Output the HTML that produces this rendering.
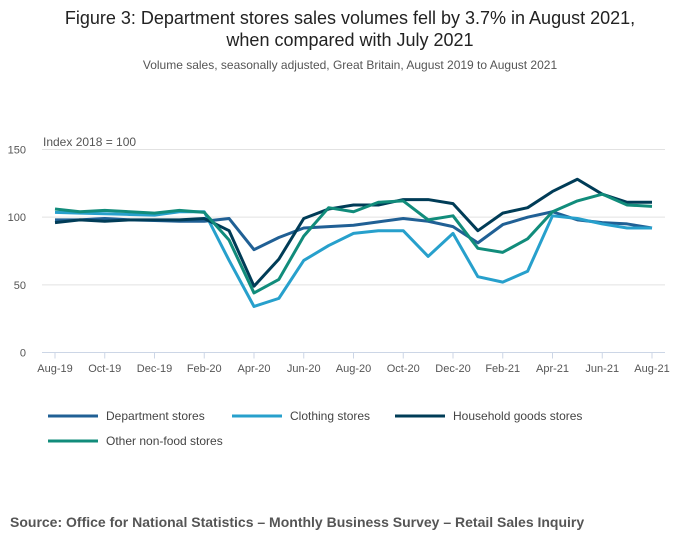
<!DOCTYPE html>
<html><head><meta charset="utf-8"><style>
body{margin:0;width:700px;height:549px;background:#fff;font-family:"Liberation Sans",sans-serif;overflow:hidden}
svg text{font-family:"Liberation Sans",sans-serif}
</style></head><body>
<svg id="chart" width="700" height="549">
<text x="350" y="24" text-anchor="middle" font-size="18" fill="#222">Figure 3: Department stores sales volumes fell by 3.7% in August 2021,</text>
<text x="350" y="46" text-anchor="middle" font-size="18" fill="#222">when compared with July 2021</text>
<text x="350" y="69" text-anchor="middle" font-size="12" fill="#555">Volume sales, seasonally adjusted, Great Britain, August 2019 to August 2021</text>
<text x="43" y="146" font-size="12" fill="#555">Index 2018 = 100</text>
<g id="grid"></g><g id="series"></g>
<text x="10" y="527" font-size="14" font-weight="bold" fill="#555">Source: Office for National Statistics – Monthly Business Survey – Retail Sales Inquiry</text>
</svg>
<script>
const months=["Aug-19","Sep-19","Oct-19","Nov-19","Dec-19","Jan-20","Feb-20","Mar-20","Apr-20","May-20","Jun-20","Jul-20","Aug-20","Sep-20","Oct-20","Nov-20","Dec-20","Jan-21","Feb-21","Mar-21","Apr-21","May-21","Jun-21","Jul-21","Aug-21"];
const yTicks=[0,50,100,150];
const department=[98,98,99,98,97.5,97,97,99,76,85,92,93,94,96.5,99,97,93,81,94.5,100,104,98,96,95,92];
const clothing=[103.5,103,102.5,102,101.5,104,104,68,34,40,68,79,88,90,90,71,88,56,52,60,101,99,95,92,92];
const household=[96,98,97,98,98,98,99,90,49,69,99,106,109,109,113,113,110,90,103,107,119,128,117,111,111];
const other=[106,104,105,104,103,105,103.5,83,44,54,86,107,104,111,112,98,101,77,74,84,104,112,117,109,108];
const seriesNames=["Department stores","Clothing stores","Household goods stores","Other non-food stores"];
const seriesColors=["#206095","#27a0cc","#003c57","#118c7b"];
const seriesData=[department,clothing,household,other];
const NS="http://www.w3.org/2000/svg";
const x0=55,x1=652,yTop=149.5,yBot=352.5,yMax=150;
const xs=i=>x0+(x1-x0)*i/(months.length-1);
const ys=v=>yBot-(yBot-yTop)*v/yMax;
const svg=document.getElementById('chart'),grid=document.getElementById('grid'),ser=document.getElementById('series');
function mk(t,a,p){const e=document.createElementNS(NS,t);for(const k in a)e.setAttribute(k,a[k]);p.appendChild(e);return e;}
yTicks.forEach(v=>{
 const l=mk('line',{x1:42,x2:665,y1:ys(v),y2:ys(v),stroke:v===0?'#ccd6e6':'#e2e2e2','stroke-width':1},grid);
 
 
 const t=mk('text',{x:26,y:ys(v)+4,'text-anchor':'end','font-size':11,fill:'#555'},grid);t.textContent=v;
 
 
});
months.forEach((m,i)=>{if(i%2)return;
 const l=mk('line',{x1:xs(i),x2:xs(i),y1:yBot,y2:yBot+6,stroke:'#ccd6e6'},grid);
 
 
 const t=mk('text',{x:xs(i),y:372,'text-anchor':'middle','font-size':11,fill:'#555'},grid);t.textContent=m;
 
 
});
seriesData.forEach((d,s)=>{
 const p=mk('polyline',{points:d.map((v,i)=>xs(i)+','+ys(v)).join(' '),fill:'none',stroke:seriesColors[s],'stroke-width':3,'stroke-linejoin':'round'},ser);
 
 
});
const lp=[[48,416],[232,416],[395,416],[48,441]];
seriesNames.forEach((n,s)=>{
 const g=mk('g',{},svg);
 
 
 mk('line',{x1:lp[s][0],x2:lp[s][0]+50,y1:lp[s][1],y2:lp[s][1],stroke:seriesColors[s],'stroke-width':3},g);
 const t=mk('text',{x:lp[s][0]+58,y:lp[s][1]+4,'font-size':12,fill:'#444'},g);t.textContent=n;
});
</script>
</body></html>
